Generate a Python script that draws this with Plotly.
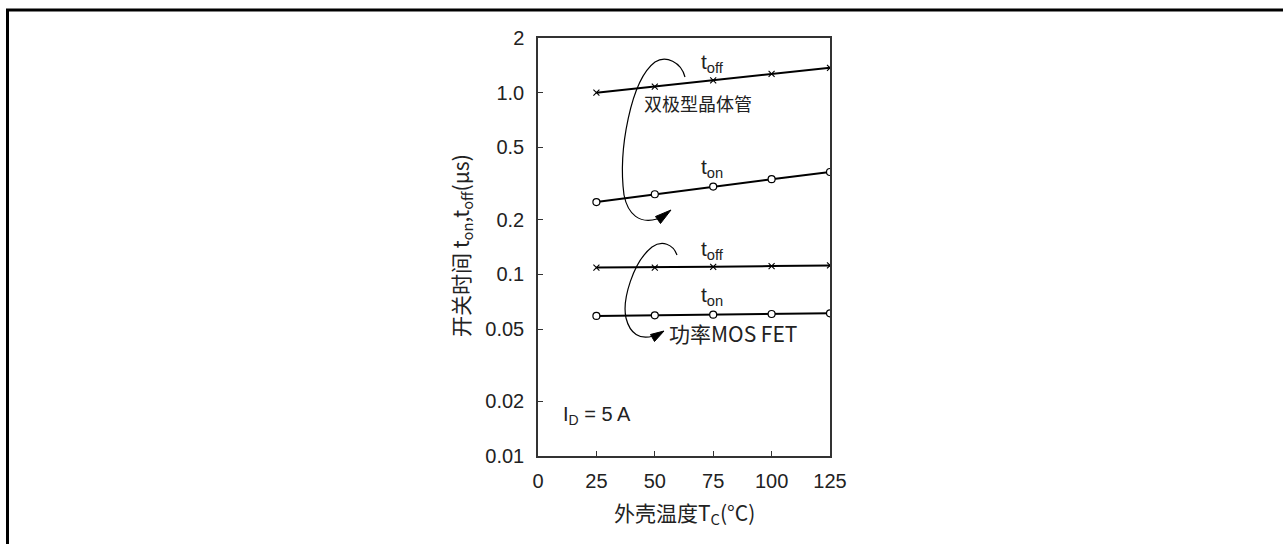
import plotly.graph_objects as go

# ---- data ----
temp_c = [25, 50, 75, 100, 125]
bjt_toff = [1.00, 1.08, 1.17, 1.27, 1.37]
bjt_ton = [0.250, 0.276, 0.304, 0.334, 0.366]
mos_toff = [0.109, 0.109, 0.110, 0.111, 0.112]
mos_ton = [0.059, 0.0595, 0.060, 0.0605, 0.061]

y_tickvals = [0.01, 0.02, 0.05, 0.1, 0.2, 0.5, 1, 2]
y_ticktext = ["0.01", "0.02", "0.05", "0.1", "0.2", "0.5", "1.0", "2"]
x_tickvals = [0, 25, 50, 75, 100, 125]

# ---- layout geometry (pixels) ----
W, H = 1283, 544
PL, PR, PT, PB = 538, 830, 38, 456


def px(x):
    return (x - PL) / (PR - PL)


def py(y):
    return (PB - y) / (PB - PT)


FONT = "Liberation Sans, Arial, sans-serif"
CJK = "Noto Sans CJK SC, Liberation Sans, sans-serif"

fig = go.Figure()

line_style = dict(color="black", width=2)
for ys in (bjt_toff, mos_toff):
    fig.add_trace(go.Scatter(
        x=temp_c, y=ys, mode="lines+markers", line=line_style,
        marker=dict(symbol="x-thin", size=6, color="black",
                    line=dict(width=1.1, color="black")),
        showlegend=False, hoverinfo="skip"))
for ys in (bjt_ton, mos_ton):
    fig.add_trace(go.Scatter(
        x=temp_c, y=ys, mode="lines+markers", line=line_style,
        marker=dict(symbol="circle", size=7, color="white",
                    line=dict(width=1.2, color="black")),
        showlegend=False, hoverinfo="skip"))


def path(points_cmd):
    out = []
    for item in points_cmd:
        if isinstance(item, str):
            out.append(item)
        else:
            out.append(f"{px(item[0]):.5f},{py(item[1]):.5f}")
    return " ".join(out)


shapes = []
# outer frame (top and left)
shapes.append(dict(type="line", xref="paper", yref="paper",
                   x0=px(6), x1=px(1290), y0=py(10), y1=py(10),
                   line=dict(color="black", width=3)))
shapes.append(dict(type="line", xref="paper", yref="paper",
                   x0=px(7.5), x1=px(7.5), y0=py(10), y1=py(550),
                   line=dict(color="black", width=3)))

# curved arrow, bipolar
p1 = path(["M", (685, 77), "C", (681, 62), (666, 55), (655, 62),
           "C", (631, 80), (618, 150), (624, 195),
           "C", (628, 215), (640, 224), (657, 219)])
shapes.append(dict(type="path", xref="paper", yref="paper", path=p1,
                   line=dict(color="black", width=1.2)))
a1 = path(["M", (671, 210), "L", (660.5, 223.5), "L", (655.5, 216.5), "Z"])
shapes.append(dict(type="path", xref="paper", yref="paper", path=a1,
                   fillcolor="black", line=dict(color="black", width=1)))

# curved arrow, MOSFET
p2 = path(["M", (677, 255), "C", (673, 244), (662, 240), (652, 247),
           "C", (633, 262), (622, 300), (626, 318),
           "C", (630, 334), (640, 340), (653, 336)])
shapes.append(dict(type="path", xref="paper", yref="paper", path=p2,
                   line=dict(color="black", width=1.2)))
a2 = path(["M", (664, 331), "L", (654.5, 341.5), "L", (650.5, 334.5), "Z"])
shapes.append(dict(type="path", xref="paper", yref="paper", path=a2,
                   fillcolor="black", line=dict(color="black", width=1)))

ann = []


def add_text(text, x, y, size=20, font=FONT, angle=0):
    ann.append(dict(text=text, xref="paper", yref="paper", x=px(x), y=py(y),
                    xanchor="center", yanchor="middle", showarrow=False,
                    textangle=angle,
                    font=dict(family=font, size=size, color="#222")))


add_text("t<sub>off</sub>", 712, 63, size=21)
add_text("双极型晶体管", 698, 103, size=18, font=CJK)
add_text("t<sub>on</sub>", 712, 168, size=21)
add_text("t<sub>off</sub>", 712, 250, size=21)
add_text("t<sub>on</sub>", 712, 296, size=21)
add_text("功率MOS FET", 733, 333, size=21, font=CJK)
add_text("I<sub>D</sub> = 5 A", 597, 415)
add_text("开关时间 t<sub>on</sub>,t<sub>off</sub>(μs)", 461, 246, size=21, font=CJK, angle=-90)
add_text("外壳温度T<sub>C</sub>(°C)", 684, 513, size=21, font=CJK)

fig.update_layout(
    width=W, height=H,
    margin=dict(l=PL, r=W - PR, t=PT, b=H - PB, pad=0),
    paper_bgcolor="white", plot_bgcolor="white",
    font=dict(family=FONT, size=20, color="#222"),
    shapes=shapes, annotations=ann,
    xaxis=dict(range=[0, 125], tickvals=x_tickvals, ticks="inside", ticklen=5,
               tickcolor="#333", showline=True, linecolor="#333", linewidth=1.5,
               mirror=True, showgrid=False, zeroline=False, ticklabelstandoff=6,
               tickfont=dict(size=20)),
    yaxis=dict(type="log", range=[-2, 0.30103], tickvals=y_tickvals,
               ticktext=y_ticktext, ticks="inside", ticklen=5, tickcolor="#333",
               showline=True, linecolor="#333", linewidth=1.5, mirror=True,
               showgrid=False, zeroline=False, ticklabelstandoff=8,
               tickfont=dict(size=20)),
)

fig.write_html("out.html")
